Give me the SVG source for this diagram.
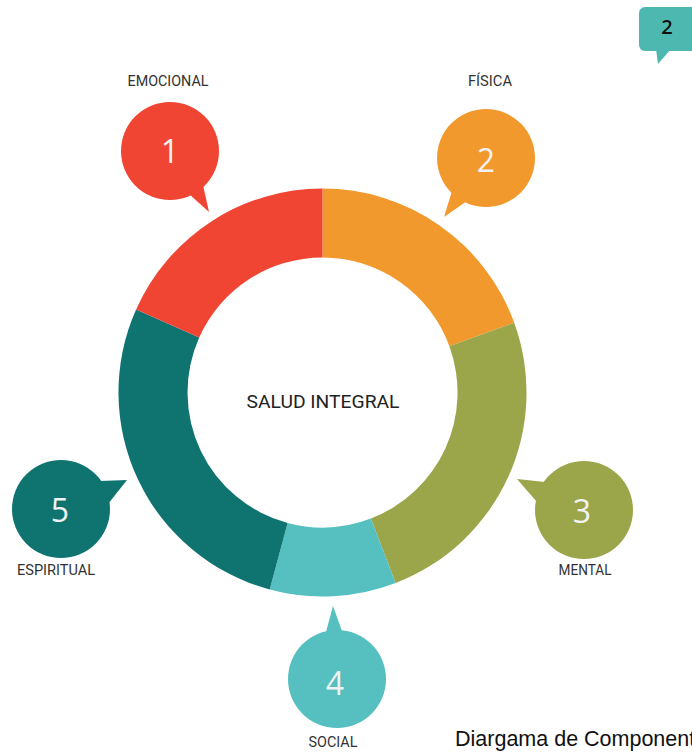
<svg xmlns="http://www.w3.org/2000/svg" width="692" height="752" viewBox="0 0 692 752">
<style>
.lbl{font-family:Roboto,"Liberation Sans",sans-serif;font-size:15px;fill:#333;text-anchor:middle}
.num{font-family:"Open Sans","Liberation Sans",sans-serif;font-size:32px;font-weight:400;fill:#f2f2f2;text-anchor:middle}
.red{fill:#F04533}.org{fill:#F2992E}.grn{fill:#9BA54A}.cyn{fill:#56BFBF}.tel{fill:#0F7370}
</style>
<rect width="692" height="752" fill="#fff"/>
<g id="ring">
<path id="seg-fisica" class="org" d="M322.5,188.5 A204,204 0 0 1 514.2,322.7 L449.4,346.3 A135,135 0 0 0 322.5,257.5 Z"/>
<path id="seg-mental" class="grn" d="M514.2,322.7 A204,204 0 0 1 395.6,583 L370.9,518.5 A135,135 0 0 0 449.4,346.3 Z"/>
<path id="seg-social" class="cyn" d="M395.6,583 A204,204 0 0 1 269.7,589.5 L287.6,522.9 A135,135 0 0 0 370.9,518.5 Z"/>
<path id="seg-espiritual" class="tel" d="M269.7,589.5 A204,204 0 0 1 136.1,309.5 L199.2,337.6 A135,135 0 0 0 287.6,522.9 Z"/>
<path id="seg-emocional" class="red" d="M136.1,309.5 A204,204 0 0 1 322.5,188.5 L322.5,257.5 A135,135 0 0 0 199.2,337.6 Z"/>
</g>
<g id="center">
<text x="323" y="408" font-family="Roboto,'Liberation Sans',sans-serif" font-size="19" fill="#222" text-anchor="middle" textLength="153" lengthAdjust="spacingAndGlyphs">SALUD INTEGRAL</text>
</g>
<g id="connectors">
<polygon class="red" points="189,194 203,185 209,212"/>
<polygon class="org" points="452,191 467,201 444,217"/>
<polygon class="grn" points="545,482 537,502 517,479"/>
<polygon class="cyn" points="326,632 342,631 333,606"/>
<polygon class="tel" points="100,481 108,504 127,480"/>
</g>
<g id="node-1">
<circle class="red" cx="170" cy="151" r="49"/>
<text class="num" x="170" y="163">1</text>
<text class="lbl" x="168" y="86" textLength="81" lengthAdjust="spacingAndGlyphs">EMOCIONAL</text>
</g>
<g id="node-2">
<circle class="org" cx="486" cy="158" r="49"/>
<text class="num" x="486" y="172">2</text>
<text class="lbl" x="490" y="86" textLength="44" lengthAdjust="spacingAndGlyphs">FÍSICA</text>
</g>
<g id="node-3">
<circle class="grn" cx="584" cy="510" r="49"/>
<text class="num" x="582" y="523">3</text>
<text class="lbl" x="585" y="575" textLength="53" lengthAdjust="spacingAndGlyphs">MENTAL</text>
</g>
<g id="node-4">
<circle class="cyn" cx="337" cy="679" r="49"/>
<text class="num" x="335" y="695">4</text>
<text class="lbl" x="333" y="747" textLength="49" lengthAdjust="spacingAndGlyphs">SOCIAL</text>
</g>
<g id="node-5">
<circle class="tel" cx="61" cy="509" r="49"/>
<text class="num" x="60" y="522">5</text>
<text class="lbl" x="56" y="575" textLength="78" lengthAdjust="spacingAndGlyphs">ESPIRITUAL</text>
</g>
<g id="badge">
<rect x="639" y="7" width="62" height="44" rx="6" fill="#4DB8B0"/>
<polygon points="656,49 671,49 658,64" fill="#4DB8B0"/>
<text x="667" y="34" font-family="'Open Sans','Liberation Sans',sans-serif" font-size="20" font-weight="600" fill="#111" text-anchor="middle">2</text>
</g>
<g id="caption">
<text x="455" y="746" font-family="'Liberation Sans',Arial,sans-serif" font-size="21.5" fill="#111">Diargama de Componentes</text>
</g>
</svg>
